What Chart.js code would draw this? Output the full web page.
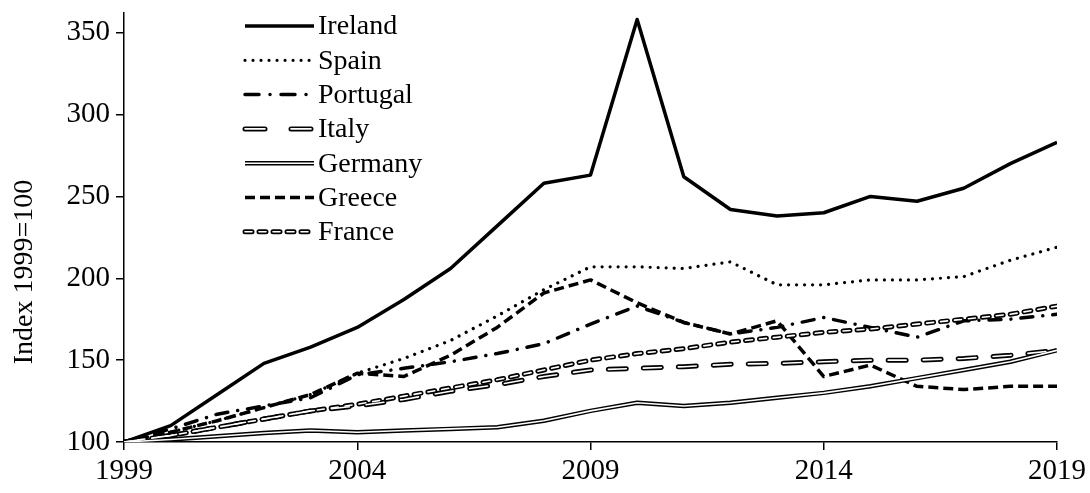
<!DOCTYPE html>
<html>
<head>
<meta charset="utf-8">
<script src="https://cdn.jsdelivr.net/npm/chart.js@4/dist/chart.umd.min.js"></script>
<style>
  body { margin: 0; background: #fff; }
  canvas { display: block; }
</style>
</head>
<body>
<canvas id="indexChart" width="1090" height="493"></canvas>
<script>
// Data (index, 1999 = 100)
const years = [1999, 2000, 2001, 2002, 2003, 2004, 2005, 2006, 2007, 2008, 2009,
               2010, 2011, 2012, 2013, 2014, 2015, 2016, 2017, 2018, 2019];
const ireland  = [100, 110, 129, 148, 158, 170, 187, 206, 232, 258, 263, 358, 262, 242, 238, 240, 250, 247, 255, 270, 283];
const spain    = [100, 106, 113, 121, 129, 142, 151, 162, 177, 193, 207, 207, 206, 210, 196, 196, 199, 199, 201, 211, 219];
const portugal = [100, 108, 117, 122, 127, 141, 145, 149, 154, 160, 172, 183, 173, 166, 170, 176, 170, 164, 174, 175, 178];
const italy    = [100, 104, 109, 114, 119, 122, 126, 131, 135, 140, 144, 145, 146, 147.5, 148, 149, 150, 150, 151, 153, 156];
const germany  = [100, 101.5, 103.5, 105.5, 107, 106, 107, 108, 109, 113, 119, 124, 122, 124, 127, 130, 134, 139, 144, 149, 156];
const greece   = [100, 106, 113, 121, 129, 142, 140, 153, 170, 191, 199, 185, 173, 166, 174, 140, 147, 134, 132, 134, 134];
const france   = [100, 104, 109, 114, 119, 123, 128, 133, 138, 144, 150, 154, 157, 161, 164, 167, 169, 172, 175, 178, 183];
const yTicks = [100, 150, 200, 250, 300, 350];
const xTicks = [1999, 2004, 2009, 2014, 2019];

const FONT = 'Liberation Serif';

// line styles (double = black line with a white core)
const series = [
    { name: 'Ireland',  data: ireland,  width: 3.5, dash: [],            cap: 'butt' },
    { name: 'Spain',    data: spain,    width: 3.2, dash: [0.01, 8],     cap: 'round' },
    { name: 'Portugal', data: portugal, width: 3.5, dash: [12, 10, 0.01, 10], cap: 'round', legendDash: [14, 11, 0.01, 11] },
    { name: 'Italy',    data: italy,    width: 5,   dash: [18, 17],      cap: 'round', double: true, legendDash: [20, 26] },
    { name: 'Germany',  data: germany,  width: 4.5, dash: [],            cap: 'butt',  double: true },
    { name: 'Greece',   data: greece,   width: 3.5, dash: [10, 5],       cap: 'butt' },
    { name: 'France',   data: france,   width: 5,   dash: [7, 7],        cap: 'round', double: true }
];

function points(values) {
    return years.map((y, i) => ({ x: y, y: values[i] }));
}

const datasets = [];
// white cores first so they are painted on top
series.filter(s => s.double).forEach(s => {
    datasets.push({
        data: points(s.data), borderColor: '#fff', borderWidth: 1.6,
        borderDash: s.dash, borderCapStyle: s.cap, borderJoinStyle: 'round',
        pointRadius: 0, tension: 0, fill: false
    });
});
series.forEach(s => {
    datasets.push({
        label: s.name, data: points(s.data), borderColor: '#000', borderWidth: s.width,
        borderDash: s.dash, borderCapStyle: s.cap, borderJoinStyle: 'round',
        pointRadius: 0, tension: 0, fill: false
    });
});

// legend + y title drawn by hand
const customLegend = {
    id: 'customLegend',
    afterDraw(chart) {
        const ctx = chart.ctx;
        ctx.save();
        const x0 = 245, x1 = 314, top = 26, step = 34.3;
        series.forEach((s, i) => {
            const y = top + i * step;
            const dash = s.legendDash || s.dash;
            ctx.beginPath();
            ctx.setLineDash(dash);
            ctx.lineCap = s.cap;
            ctx.lineWidth = s.width;
            ctx.strokeStyle = '#000';
            ctx.moveTo(x0, y);
            ctx.lineTo(x1, y);
            ctx.stroke();
            if (s.double) {
                ctx.beginPath();
                ctx.lineWidth = 1.6;
                ctx.strokeStyle = '#fff';
                ctx.moveTo(x0, y);
                ctx.lineTo(x1, y);
                ctx.stroke();
            }
            ctx.setLineDash([]);
            ctx.fillStyle = '#000';
            ctx.font = '28px "' + FONT + '"';
            ctx.textAlign = 'left';
            ctx.textBaseline = 'middle';
            ctx.fillText(s.name, 318, y + 1);
        });
        // y axis title
        ctx.translate(25, 272);
        ctx.rotate(-Math.PI / 2);
        ctx.textAlign = 'center';
        ctx.textBaseline = 'middle';
        ctx.font = '28px "' + FONT + '"';
        ctx.fillText('Index 1999=100', 0, 0);
        ctx.restore();
    }
};

const ctx = document.getElementById('indexChart').getContext('2d');
new Chart(ctx, {
    type: 'line',
    data: { datasets: datasets },
    options: {
        responsive: false,
        animation: false,
        devicePixelRatio: 1,
        layout: { padding: { top: 13, right: 33, left: 0, bottom: 0 } },
        plugins: { legend: { display: false }, tooltip: { enabled: false } },
        scales: {
            x: {
                type: 'linear',
                min: years[0],
                max: years[years.length - 1],
                afterBuildTicks: scale => { scale.ticks = xTicks.map(v => ({ value: v })); },
                afterFit: scale => { scale.height = 51; },
                ticks: {
                    callback: v => String(v),
                    font: { family: FONT, size: 29 },
                    color: '#000',
                    maxRotation: 0,
                    autoSkip: false,
                    padding: 4
                },
                grid: { drawOnChartArea: false, drawTicks: true, tickLength: 8, color: '#000', lineWidth: 1.5 },
                border: { color: '#000', width: 1.5 }
            },
            y: {
                min: 100,
                max: 362,
                afterBuildTicks: scale => { scale.ticks = yTicks.map(v => ({ value: v })); },
                afterFit: scale => {
                    scale.width = 124;
                    scale.paddingTop = 0;
                    scale.paddingBottom = 0;
                },
                ticks: {
                    font: { family: FONT, size: 29 },
                    color: '#000',
                    padding: 6
                },
                grid: { drawOnChartArea: false, drawTicks: true, tickLength: 8, color: '#000', lineWidth: 1.5 },
                border: { color: '#000', width: 1.5 }
            }
        }
    },
    plugins: [customLegend]
});
</script>
</body>
</html>
